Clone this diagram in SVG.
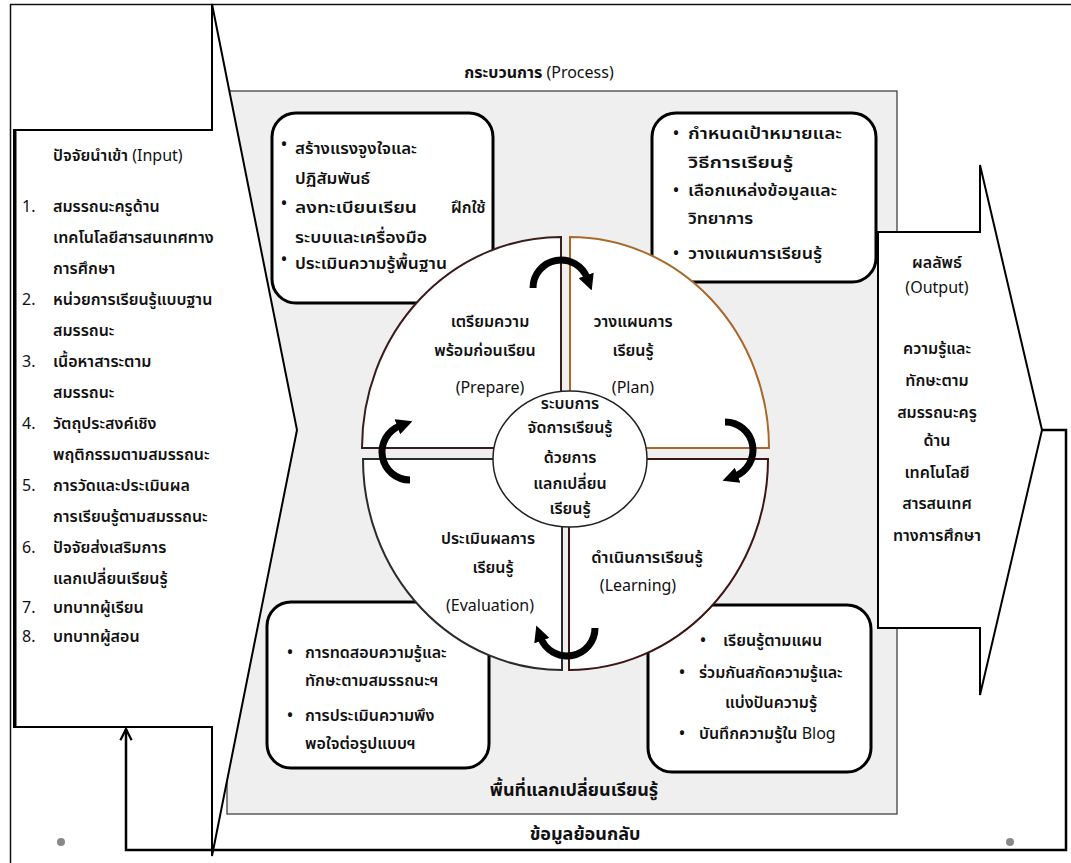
<svg xmlns="http://www.w3.org/2000/svg" width="1071" height="863" viewBox="0 0 1071 863">
<style>
text{font-family:"Noto Sans Thai","Noto Sans","DejaVu Sans",sans-serif;font-size:16px;font-weight:600;fill:#111}
.c{text-anchor:middle}
.n{font-weight:normal}
.b{font-weight:bold}
.in{font-size:17.5px}
.tb{font-size:17.5px}
.bb{font-size:16px}
.q{font-size:15px}
.ce{font-size:15px}
.out{font-size:16px}
.box{fill:#fff;stroke:#000;stroke-width:3}
.thin{fill:none;stroke:#111;stroke-width:1.5}
.curv{fill:none;stroke:#000;stroke-width:7}
.fb{fill:none;stroke:#000;stroke-width:2.5}
</style>
<defs>
<marker id="ah" viewBox="0 0 10 10" refX="2" refY="5" markerWidth="16" markerHeight="16" markerUnits="userSpaceOnUse" orient="auto">
<path d="M0,0 L10,5 L0,10 z" fill="#000"/>
</marker>
<marker id="open" viewBox="0 0 10 10" refX="9" refY="5" markerWidth="14" markerHeight="14" markerUnits="userSpaceOnUse" orient="auto">
<path d="M1,1 L9,5 L1,9" fill="none" stroke="#000" stroke-width="1.6"/>
</marker>
</defs>
<rect width="1071" height="863" fill="#fff"/>
<g id="frame">
<path d="M10.5,863 L10.5,4.5 L1071,4.5" class="thin"/>
</g>
<g id="process">
<rect x="227" y="91" width="670" height="723" fill="#efefef" stroke="#333" stroke-width="1.2"/>
<text x="539" y="78" class="c b" style="font-size:16px">กระบวนการ <tspan class="n">(Process)</tspan></text>
<text x="574" y="796" class="c b" style="font-size:18px">พื้นที่แลกเปลี่ยนเรียนรู้</text>
</g>
<g id="box-prepare" class="tb">
<rect x="272" y="113" width="221" height="190" rx="24" class="box"/>
<text x="281" y="150">•</text><text x="295" y="154" textLength="122" lengthAdjust="spacingAndGlyphs">สร้างแรงจูงใจและ</text>
<text x="295" y="184" textLength="75" lengthAdjust="spacingAndGlyphs">ปฏิสัมพันธ์</text>
<text x="281" y="209">•</text><text x="295" y="213" textLength="122" lengthAdjust="spacingAndGlyphs">ลงทะเบียนเรียน</text><text x="451" y="213">ฝึกใช้</text>
<text x="295" y="243" textLength="132" lengthAdjust="spacingAndGlyphs">ระบบและเครื่องมือ</text>
<text x="281" y="265">•</text><text x="295" y="269" textLength="152" lengthAdjust="spacingAndGlyphs">ประเมินความรู้พื้นฐาน</text>
</g>
<g id="box-plan" class="tb">
<rect x="652" y="113" width="224" height="169" rx="24" class="box"/>
<text x="673" y="139">•</text><text x="688" y="139" textLength="154" lengthAdjust="spacingAndGlyphs">กำหนดเป้าหมายและ</text>
<text x="688" y="168" textLength="105" lengthAdjust="spacingAndGlyphs">วิธีการเรียนรู้</text>
<text x="673" y="196">•</text><text x="688" y="196" textLength="149" lengthAdjust="spacingAndGlyphs">เลือกแหล่งข้อมูลและ</text>
<text x="688" y="224" textLength="65" lengthAdjust="spacingAndGlyphs">วิทยาการ</text>
<text x="673" y="259">•</text><text x="688" y="259" textLength="134" lengthAdjust="spacingAndGlyphs">วางแผนการเรียนรู้</text>
</g>
<g id="box-evaluation" class="bb">
<rect x="267" y="602" width="222" height="166" rx="24" class="box"/>
<text x="287" y="658">•</text><text x="305" y="658">การทดสอบความรู้และ</text>
<text x="305" y="686">ทักษะตามสมรรถนะฯ</text>
<text x="287" y="721">•</text><text x="305" y="721">การประเมินความพึง</text>
<text x="305" y="749">พอใจต่อรูปแบบฯ</text>
</g>
<g id="box-learning" class="bb">
<rect x="648" y="605" width="223" height="167" rx="24" class="box"/>
<text x="700" y="646">•</text><text x="723" y="646">เรียนรู้ตามแผน</text>
<text x="679" y="678">•</text><text x="699" y="678">ร่วมกันสกัดความรู้และ</text>
<text x="725" y="708">แบ่งปันความรู้</text>
<text x="679" y="739">•</text><text x="699" y="739">บันทึกความรู้ใน <tspan class="n">Blog</tspan></text>
</g>
<g id="q-prepare" class="q">
<path d="M561,448 L362,448 A199,211 0 0 1 561,237 Z" fill="#fff" stroke="#3a1c1c" stroke-width="2"/>
<text x="490" y="327" class="c">เตรียมความ</text>
<text x="485" y="356" class="c">พร้อมก่อนเรียน</text>
<text x="490" y="393" class="c n">(Prepare)</text>
</g>
<g id="q-plan" class="q">
<path d="M570,448 L570,237 A199,211 0 0 1 769,448 Z" fill="#fff" stroke="#a86a2c" stroke-width="2"/>
<text x="633" y="327" class="c">วางแผนการ</text>
<text x="633" y="356" class="c">เรียนรู้</text>
<text x="633" y="393" class="c n">(Plan)</text>
</g>
<g id="q-evaluation" class="q">
<path d="M562,459 L562,670 A199,211 0 0 1 363,459 Z" fill="#fff" stroke="#2b2b2b" stroke-width="2"/>
<text x="488" y="544" class="c">ประเมินผลการ</text>
<text x="493" y="573" class="c">เรียนรู้</text>
<text x="490" y="611" class="c n">(Evaluation)</text>
</g>
<g id="q-learning" class="q">
<path d="M569,459 L768,459 A199,211 0 0 1 569,670 Z" fill="#fff" stroke="#3d1414" stroke-width="2"/>
<text x="647" y="563" class="c" style="font-size:16.5px">ดำเนินการเรียนรู้</text>
<text x="638" y="591" class="c n">(Learning)</text>
</g>
<g id="center" class="ce">
<ellipse cx="570" cy="459" rx="77" ry="68" fill="#fff" stroke="#222" stroke-width="1.5"/>
<text x="570" y="409" class="c">ระบบการ</text>
<text x="570" y="433" class="c">จัดการเรียนรู้</text>
<text x="570" y="463" class="c">ด้วยการ</text>
<text x="570" y="489" class="c">แลกเปลี่ยน</text>
<text x="570" y="514" class="c">เรียนรู้</text>
</g>
<g id="input" class="in">
<polygon points="14,130 212,130 212,4 297,430 212,856 212,727 14,727" fill="#fff" stroke="#000" stroke-width="2"/>
<line x1="15" y1="130" x2="15" y2="727" stroke="#000" stroke-width="3"/>
<text x="53" y="161">ปัจจัยนำเข้า <tspan class="n">(Input)</tspan></text>
<text x="22" y="212" class="n">1.</text><text x="53" y="212">สมรรถนะครูด้าน</text>
<text x="53" y="243">เทคโนโลยีสารสนเทศทาง</text>
<text x="53" y="274">การศึกษา</text>
<text x="22" y="305" class="n">2.</text><text x="53" y="305">หน่วยการเรียนรู้แบบฐาน</text>
<text x="53" y="336">สมรรถนะ</text>
<text x="22" y="367" class="n">3.</text><text x="53" y="367">เนื้อหาสาระตาม</text>
<text x="53" y="398">สมรรถนะ</text>
<text x="22" y="429" class="n">4.</text><text x="53" y="429">วัตถุประสงค์เชิง</text>
<text x="53" y="460">พฤติกรรมตามสมรรถนะ</text>
<text x="22" y="491" class="n">5.</text><text x="53" y="491">การวัดและประเมินผล</text>
<text x="53" y="522">การเรียนรู้ตามสมรรถนะ</text>
<text x="22" y="553" class="n">6.</text><text x="53" y="553">ปัจจัยส่งเสริมการ</text>
<text x="53" y="584">แลกเปลี่ยนเรียนรู้</text>
<text x="22" y="613" class="n">7.</text><text x="53" y="613">บทบาทผู้เรียน</text>
<text x="22" y="642" class="n">8.</text><text x="53" y="642">บทบาทผู้สอน</text>
</g>
<g id="output" class="out">
<polygon points="878,232 980,232 980,165 1042,430 980,695 980,628 878,628" fill="#fff" stroke="#000" stroke-width="2"/>
<text x="937" y="268" class="c">ผลลัพธ์</text>
<text x="937" y="293" class="c n">(Output)</text>
<text x="937" y="354" class="c">ความรู้และ</text>
<text x="937" y="386" class="c">ทักษะตาม</text>
<text x="937" y="418" class="c">สมรรถนะครู</text>
<text x="937" y="446" class="c">ด้าน</text>
<text x="937" y="478" class="c">เทคโนโลยี</text>
<text x="937" y="509" class="c">สารสนเทศ</text>
<text x="937" y="541" class="c">ทางการศึกษา</text>
</g>
<g id="connectors">
<path d="M533,288 A28,28 0 0 1 587.3,278.4" class="curv" marker-end="url(#ah)"/>
<path d="M725,422 A28,28 0 0 1 734.6,476.3" class="curv" marker-end="url(#ah)"/>
<path d="M595,628 A28,28 0 0 1 540.7,637.6" class="curv" marker-end="url(#ah)"/>
<path d="M410,480 A28,28 0 0 1 400.4,425.7" class="curv" marker-end="url(#ah)"/>
<path d="M1042,430 L1066,430 L1066,850 L126,850 L126,729" class="fb" marker-end="url(#open)"/>
<text x="585" y="840" class="c b" style="font-size:18px">ข้อมูลย้อนกลับ</text>
</g>
<circle cx="61" cy="842" r="4" fill="#888"/>
<circle cx="1010" cy="842" r="4" fill="#888"/>
</svg>
